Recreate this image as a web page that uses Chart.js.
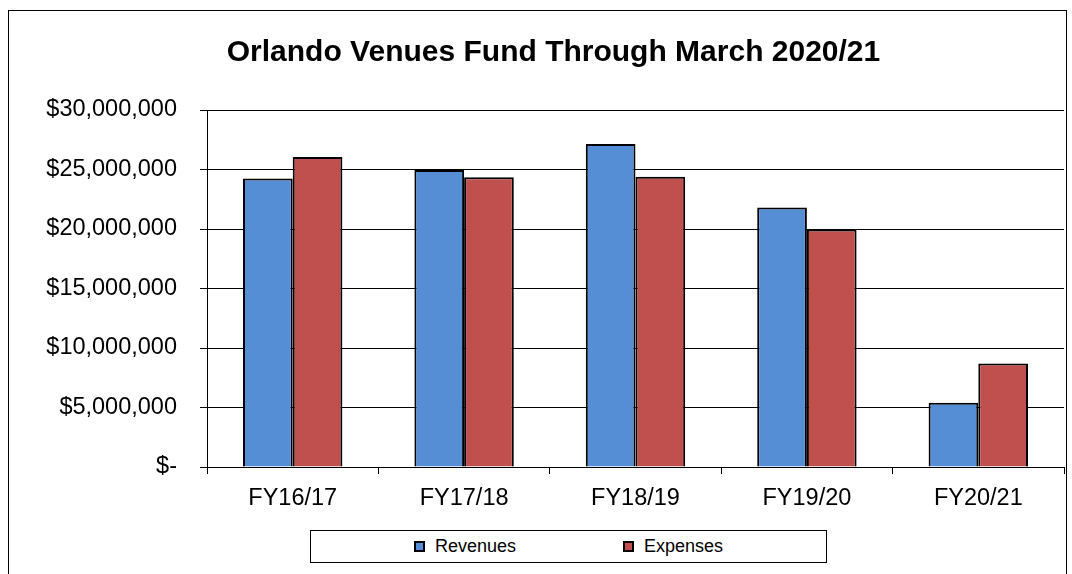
<!doctype html>
<html lang="en">
  <head>
    <title>Orlando Venues Fund</title>
    <meta charset="utf-8" />
    <style>
      body {
        margin: 0;
        overflow: hidden;
        background: #fff;
      }
      .chart-container {
        position: relative;
        width: 1072px;
        height: 574px;
      }
      #legend {
        position: absolute;
        left: 310px;
        top: 530px;
        width: 515px;
        height: 31px;
        border: 1px solid #000;
        background: #fff;
        display: flex;
        justify-content: center;
        align-items: center;
        gap: 107px;
        font-family: "Liberation Sans", Arial, sans-serif;
        font-size: 18px;
        color: #000;
      }
      #legend .item {
        display: flex;
        align-items: center;
      }
      #legend .swatch {
        width: 7px;
        height: 7px;
        border: 2px solid #000;
        margin-right: 10px;
      }
    </style>
  </head>

  <body>
    <div class="chart-container">
      <canvas id="venues-fund" width="1072" height="574"></canvas>
      <div id="legend"></div>
    </div>

    <script src="https://cdn.jsdelivr.net/npm/chart.js@4.4.1/dist/chart.umd.min.js"></script>
    <script>
      const categories = ["FY16/17", "FY17/18", "FY18/19", "FY19/20", "FY20/21"];
      const revenues = [24250000, 24950000, 27150000, 21800000, 5400000];
      const expenses = [26050000, 24350000, 24400000, 19950000, 8700000];
      const yMin = 0;
      const yMax = 30000000;
      const yStep = 5000000;

      const font = "'Liberation Sans', Arial, sans-serif";

      function money(value) {
        if (value === 0) return "$-";
        return "$" + value.toLocaleString("en-US");
      }

      // outer frame round the whole chart
      const framePlugin = {
        id: "frame",
        beforeDraw(chart) {
          const c = chart.ctx;
          c.save();
          c.strokeStyle = "#000";
          c.lineWidth = 1;
          c.strokeRect(8.5, 10.5, 1058, 700);
          c.restore();
        },
      };

      // boxed legend below the plot, built from the chart's own legend items
      const htmlLegendPlugin = {
        id: "htmlLegend",
        afterUpdate(chart) {
          const box = document.getElementById("legend");
          box.innerHTML = "";
          const items = chart.options.plugins.legend.labels.generateLabels(chart);
          items.forEach((item) => {
            const el = document.createElement("div");
            el.className = "item";
            const swatch = document.createElement("span");
            swatch.className = "swatch";
            swatch.style.background = item.fillStyle;
            const text = document.createElement("span");
            text.textContent = item.text;
            el.appendChild(swatch);
            el.appendChild(text);
            box.appendChild(el);
          });
        },
      };

      const ctx = document.getElementById("venues-fund");
      new Chart(ctx, {
        type: "bar",
        data: {
          labels: categories,
          datasets: [
            {
              label: "Revenues",
              data: revenues,
              backgroundColor: "#558ED5",
              borderColor: "#000",
              borderWidth: 2,
            },
            {
              label: "Expenses",
              data: expenses,
              backgroundColor: "#C0504D",
              borderColor: "#000",
              borderWidth: 2,
            },
          ],
        },
        plugins: [framePlugin, htmlLegendPlugin],
        options: {
          responsive: false,
          animation: false,
          devicePixelRatio: 1,
          layout: {
            padding: { left: 43, right: 8, top: 10, bottom: 0 },
          },
          datasets: {
            bar: {
              categoryPercentage: 0.58,
              barPercentage: 1.0,
            },
          },
          plugins: {
            legend: { display: false },
            tooltip: { enabled: false },
            title: {
              display: true,
              text: "Orlando Venues Fund Through March 2020/21",
              color: "#000",
              font: { family: font, size: 30, weight: "bold", lineHeight: 1.2 },
              padding: { top: 25.2, bottom: 38.8 },
            },
          },
          scales: {
            x: {
              afterFit(scale) {
                scale.height = 107;
              },
              grid: {
                offset: true,
                drawOnChartArea: false,
                drawTicks: true,
                tickLength: 7,
                tickColor: "#000",
              },
              border: { color: "#000", width: 1 },
              ticks: {
                color: "#000",
                padding: 10,
                font: { family: font, size: 23.5 },
              },
            },
            y: {
              min: yMin,
              max: yMax,
              afterFit(scale) {
                scale.width = 164;
              },
              grid: {
                color: "#000",
                lineWidth: 1,
                drawTicks: true,
                tickLength: 7,
                tickColor: "#000",
              },
              border: { color: "#000", width: 1 },
              ticks: {
                stepSize: yStep,
                color: "#000",
                padding: 23,
                font: { family: font, size: 23.5 },
                callback: (value) => money(value),
              },
            },
          },
        },
      });
    </script>
  </body>
</html>
